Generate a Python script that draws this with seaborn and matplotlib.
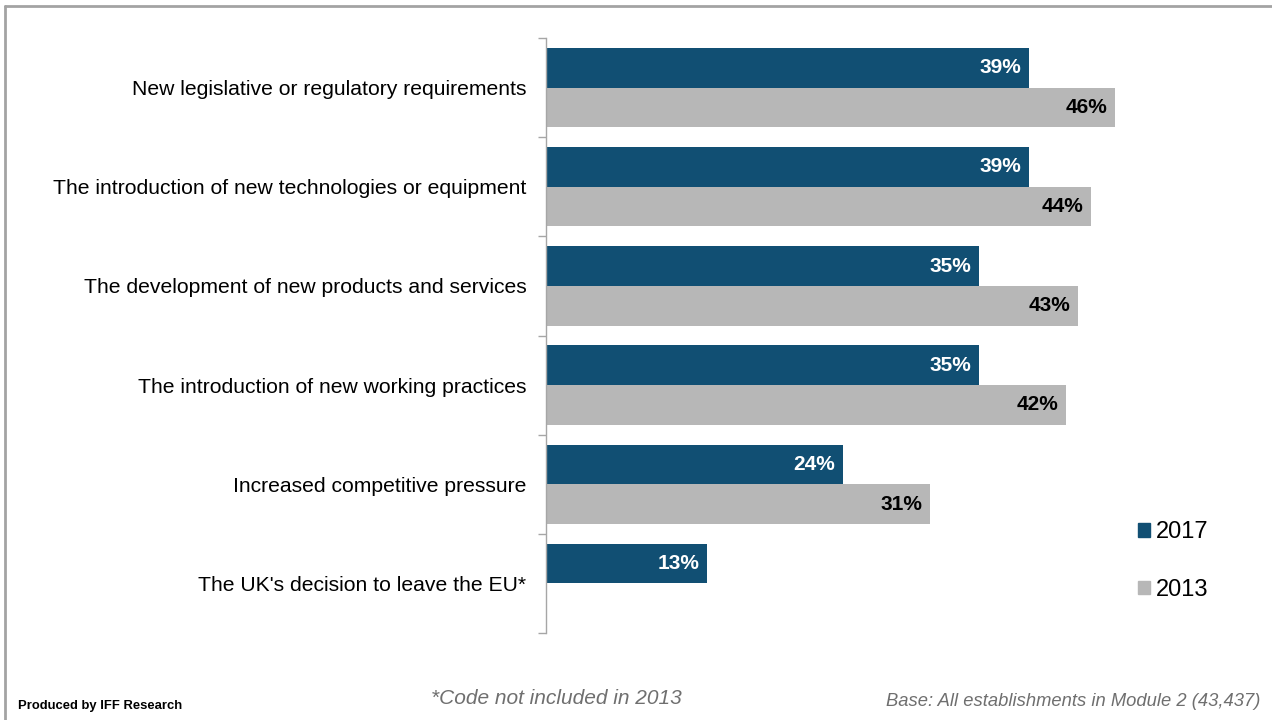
import numpy as np
import pandas as pd
import matplotlib
matplotlib.use("Agg")
import matplotlib.pyplot as plt
from matplotlib.lines import Line2D
import seaborn as sns

categories = [
    "New legislative or regulatory requirements",
    "The introduction of new technologies or equipment",
    "The development of new products and services",
    "The introduction of new working practices",
    "Increased competitive pressure",
    "The UK's decision to leave the EU*",
]
values_2017 = [39, 39, 35, 35, 24, 13]
values_2013 = [46, 44, 43, 42, 31, np.nan]
years = ["2017", "2013"]

BLUE = "#114F73"
GREY = "#B7B7B7"

df = pd.DataFrame({
    "category": categories * 2,
    "year": [years[0]] * len(categories) + [years[1]] * len(categories),
    "value": values_2017 + values_2013,
})

sns.set_style("white")
plt.rcParams["font.family"] = ["Liberation Sans", "DejaVu Sans"]
plt.rcParams["text.color"] = "black"
plt.rcParams["ytick.labelcolor"] = "black"

fig = plt.figure(figsize=(12.72, 7.2), dpi=100)
ax = fig.add_axes([546 / 1272, 87 / 720, 619 / 1272, 595 / 720])

sns.barplot(
    data=df, y="category", x="value", hue="year",
    order=categories, hue_order=years,
    palette={"2017": BLUE, "2013": GREY},
    orient="h", width=0.8, saturation=1, errorbar=None,
    linewidth=0, ax=ax,
)

ax.set_xlim(0, 50)
ax.set_ylim(len(categories) - 0.5, -0.5)
ax.set_xlabel("")
ax.set_ylabel("")

# value labels, right-aligned just inside each bar end
for container, color in zip(ax.containers, ["white", "black"]):
    for bar in container:
        w = bar.get_width()
        if np.isnan(w) or w == 0:
            continue
        y = bar.get_y() + bar.get_height() / 2
        ax.annotate(f"{w:.0f}%", xy=(w, y), xytext=(-5.5, 0),
                    textcoords="offset points", ha="right", va="center",
                    fontsize=15, fontweight="bold", color=color)

# axis styling: only the left spine, with ticks between categories
for side in ["top", "right", "bottom"]:
    ax.spines[side].set_visible(False)
ax.spines["left"].set_color("#A6A6A6")
ax.spines["left"].set_linewidth(1.0)
ax.set_xticks([])
ax.tick_params(axis="y", which="major", left=True, length=0, pad=14,
               labelsize=15.2, labelcolor="black")
ax.set_yticks(np.arange(-0.5, len(categories), 1.0), minor=True)
ax.tick_params(axis="y", which="minor", left=True, length=6, width=1.0,
               color="#A6A6A6", direction="out")

# legend at lower right
leg = ax.legend(
    handles=[plt.Rectangle((0, 0), 1, 1, color=BLUE),
             plt.Rectangle((0, 0), 1, 1, color=GREY)],
    labels=years, loc="upper left", bbox_to_anchor=(1129 / 1272, 1 - 512 / 720),
    bbox_transform=fig.transFigure, frameon=False, fontsize=17,
    handlelength=0.5, handleheight=0.5, handletextpad=0.25, labelspacing=1.5,
    borderaxespad=0, labelcolor="black",
)

# frame lines along the top and left edges of the slide
fig.add_artist(Line2D([5 / 1272, 1], [1 - 6 / 720, 1 - 6 / 720],
                      transform=fig.transFigure, color="#A3A3A3", linewidth=2))
fig.add_artist(Line2D([5 / 1272, 5 / 1272], [0, 1 - 6 / 720],
                      transform=fig.transFigure, color="#A3A3A3", linewidth=2))

# footer texts
fig.text(18 / 1272, 1 - 706 / 720, "Produced by IFF Research", fontsize=9.4,
         fontweight="bold", color="black", ha="left", va="center")
fig.text(556 / 1272, 1 - 699 / 720, "*Code not included in 2013", fontsize=15,
         fontstyle="italic", color="#6F6F6F", ha="center", va="center")
fig.text(1260 / 1272, 1 - 702 / 720, "Base: All establishments in Module 2 (43,437)",
         fontsize=13.2, fontstyle="italic", color="#6F6F6F", ha="right", va="center")

fig.savefig("out.png", dpi=100, facecolor="white")
